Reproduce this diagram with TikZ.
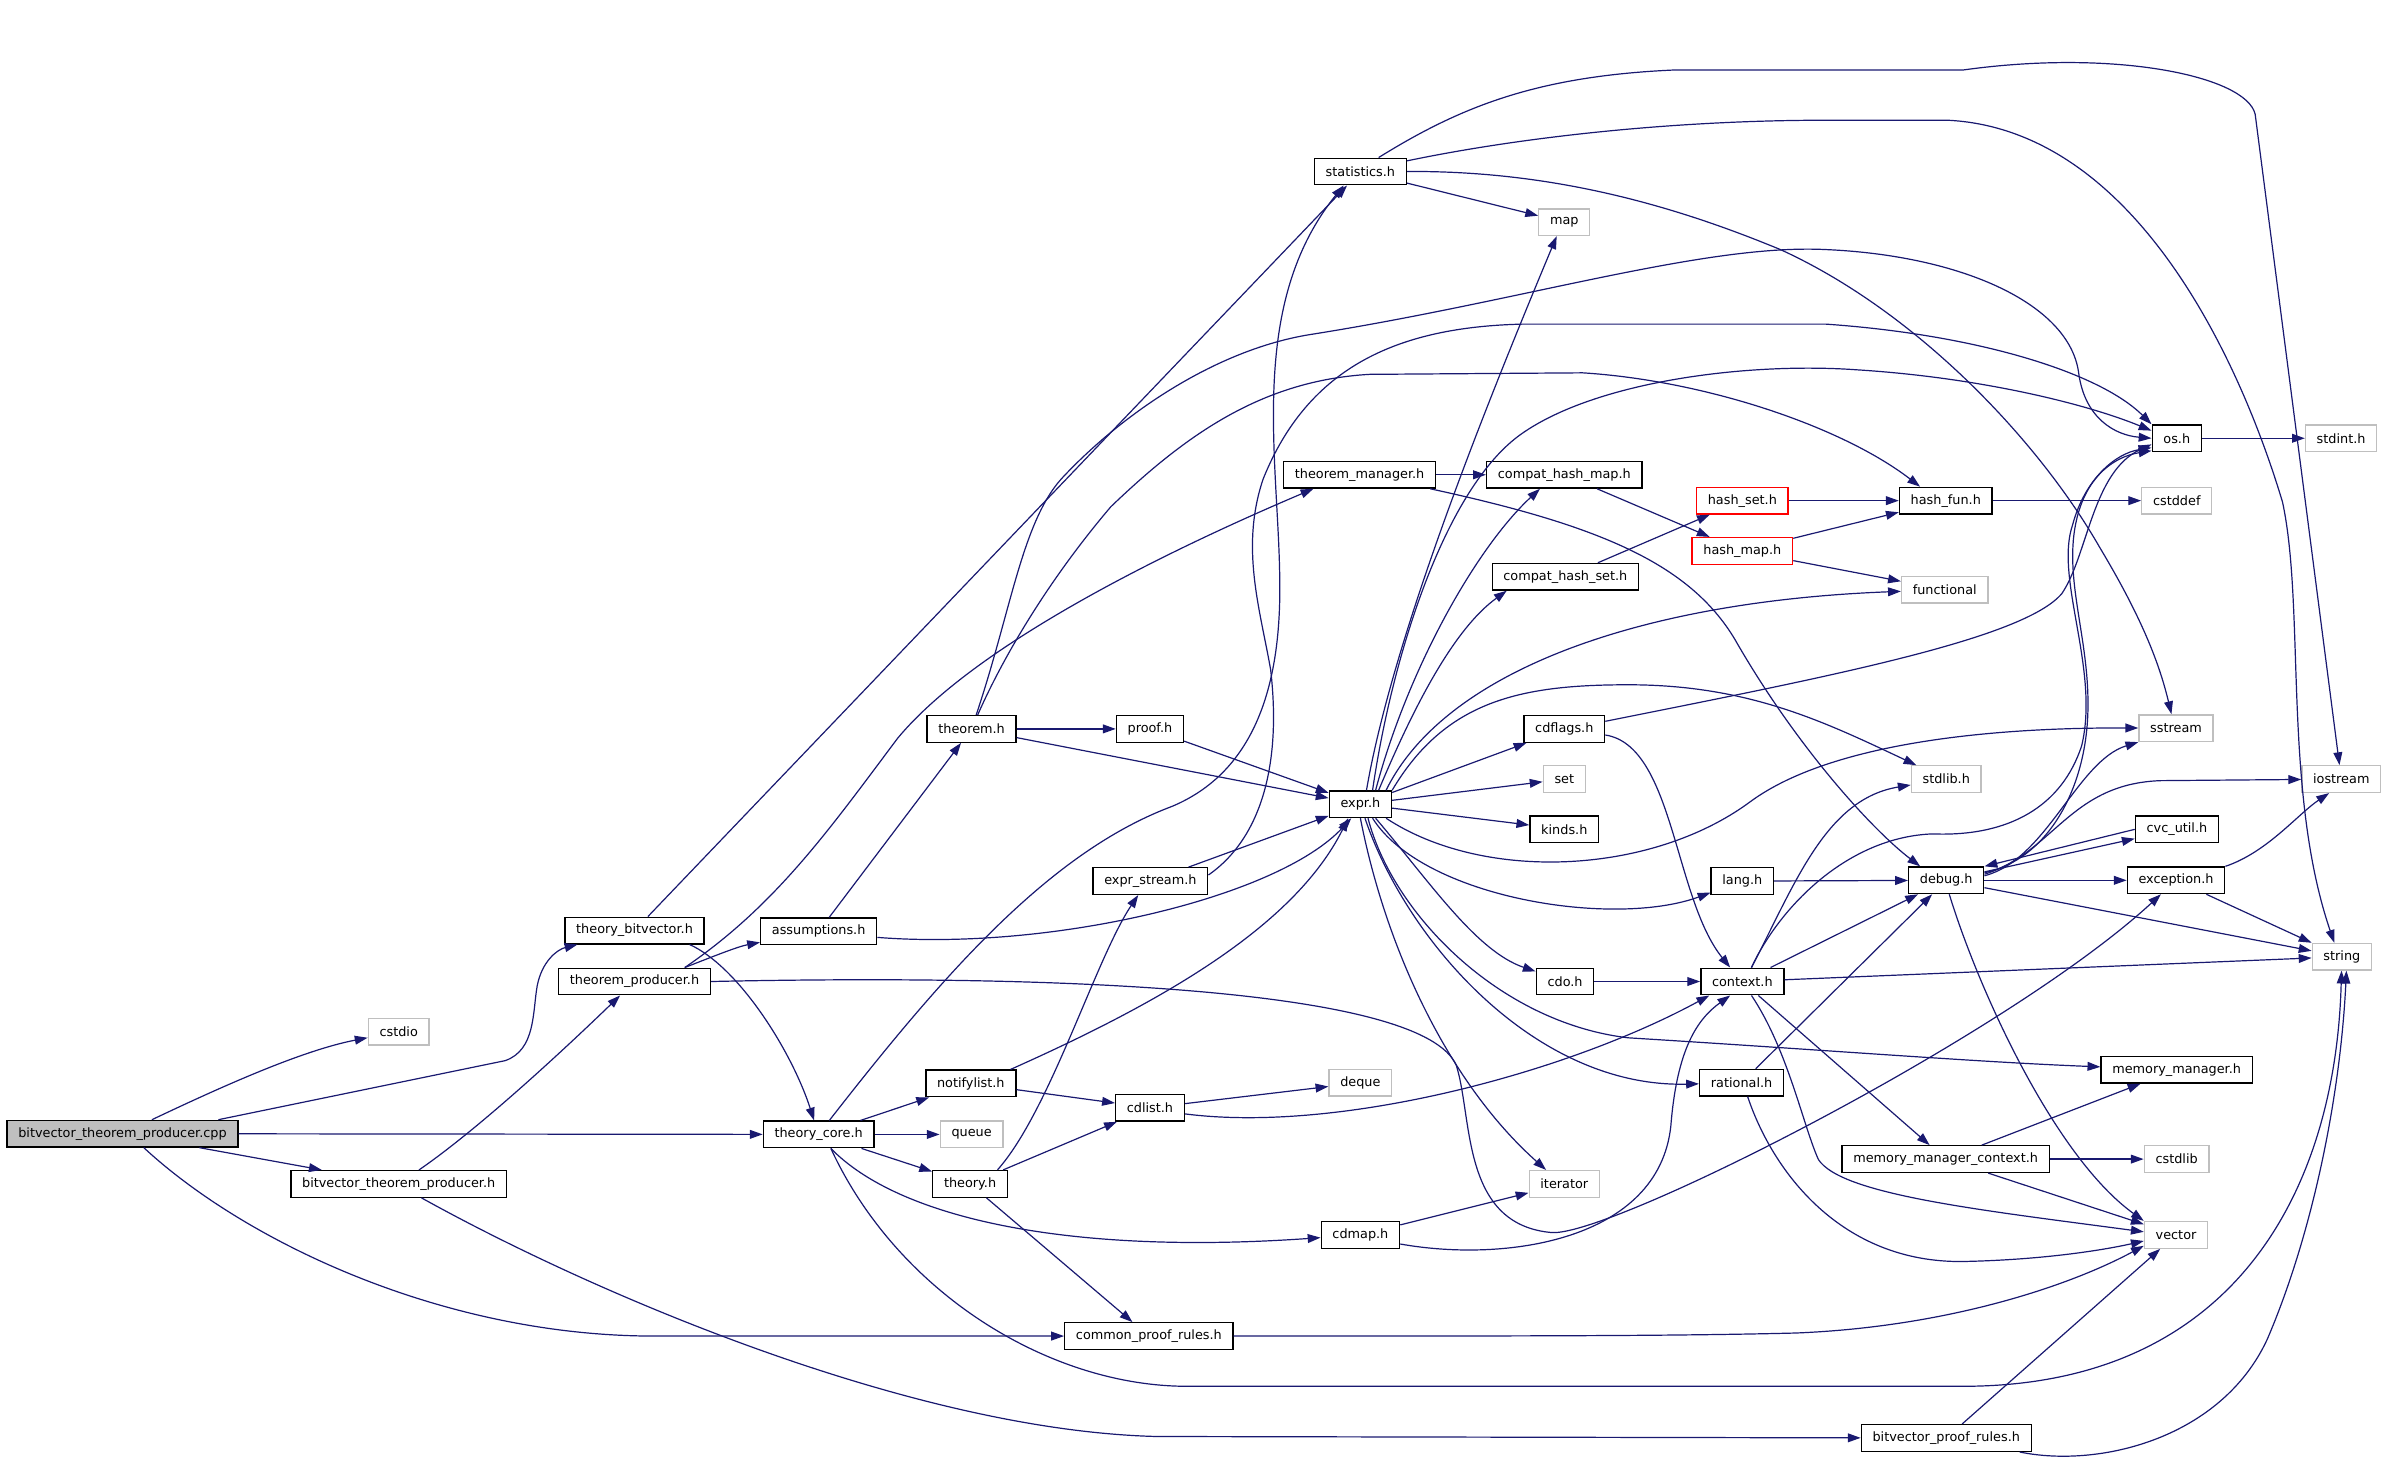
\documentclass[tikz,border=0pt]{standalone}
\usepackage{fontspec}
\setmainfont{DejaVu Sans}
\usetikzlibrary{arrows.meta,calc}
\definecolor{edgeblue}{HTML}{191970}
\definecolor{sysgray}{HTML}{BFBFBF}
\newcommand{\fnode}[4][hdr]{\node[#1] (#2) at (#3) {#4};}
\newcommand{\fedge}[2]{\draw[incl] (#1) -- (#2);}
\tikzset{
  hdr/.style={draw=black, line width=0.5pt, rectangle, inner xsep=4.2pt, inner ysep=0pt,
    minimum height=0.35cm, font=\fontsize{4.8}{5.5}\selectfont},
  sys/.style={hdr, draw=sysgray},
  redhdr/.style={hdr, draw=red},
  mainfile/.style={hdr, fill=sysgray},
  incl/.style={draw=edgeblue, line width=0.45pt, -{Triangle[length=4.8pt,width=3.3pt]}},
}

\begin{document}
\begin{tikzpicture}[x=0.02cm,y=-0.02cm]
  \useasboundingbox (0,0) rectangle (1568,965);

  \fnode[mainfile]{cpp}{80.5,745}{bitvector\_theorem\_producer.cpp}
  \fnode[sys]{cstdio}{262,678}{cstdio}
  \fnode{tbv}{417,611.5}{theory\_bitvector.h}
  \fnode{tprod}{417,645}{theorem\_producer.h}
  \fnode{btph}{262,778}{bitvector\_theorem\_producer.h}
  \fnode{assum}{538,612}{assumptions.h}
  \fnode{tcore}{538,745.5}{theory\_core.h}
  \fnode{thm}{638.5,479}{theorem.h}
  \fnode{notify}{638,712}{notifylist.h}
  \fnode[sys]{queue}{638.5,745.5}{queue}
  \fnode{theory}{637.5,778}{theory.h}
  \fnode{proof}{755.7,479}{proof.h}
  \fnode{stats}{894,112.7}{statistics.h}
  \fnode[sys]{map}{1028,146}{map}
  \fnode{tmgr}{893.5,312}{theorem\_manager.h}
  \fnode{chm}{1028,312}{compat\_hash\_map.h}
  \fnode{chs}{1028.7,379}{compat\_hash\_set.h}
  \fnode[redhdr]{hset}{1145,329}{hash\_set.h}
  \fnode[redhdr]{hmap}{1145,362}{hash\_map.h}
  \fnode{hfun}{1278.7,329}{hash\_fun.h}
  \fnode[sys]{functional}{1278,387.5}{functional}
  \fnode{os}{1430.5,288}{os.h}
  \fnode[sys]{stdint}{1538.5,288}{stdint.h}
  \fnode[sys]{cstddef}{1430.5,329}{cstddef}
  \fnode{expr}{894,528.5}{expr.h}
  \fnode{cdflags}{1028,479}{cdflags.h}
  \fnode[sys]{set}{1028,512}{set}
  \fnode{kinds}{1028,545}{kinds.h}
  \fnode{estream}{756,579}{expr\_stream.h}
  \fnode{lang}{1145,579}{lang.h}
  \fnode{cdo}{1028.5,645}{cdo.h}
  \fnode{context}{1145,645}{context.h}
  \fnode{rational}{1144.5,711.5}{rational.h}
  \fnode[sys]{deque}{894,711.5}{deque}
  \fnode{cdlist}{755.7,728}{cdlist.h}
  \fnode[sys]{iterator}{1028,778}{iterator}
  \fnode[sys]{stdlib}{1279,512}{stdlib.h}
  \fnode[sys]{sstream}{1430,478.5}{sstream}
  \fnode[sys]{iostream}{1538.6,512}{iostream}
  \fnode{cvcutil}{1430.6,545}{cvc\_util.h}
  \fnode{debug}{1279,578.5}{debug.h}
  \fnode{exception}{1430,578.5}{exception.h}
  \fnode[sys]{string}{1539,628.7}{string}
  \fnode{mm}{1430.4,703}{memory\_manager.h}
  \fnode{mmc}{1278.6,761.7}{memory\_manager\_context.h}
  \fnode[sys]{cstdlib}{1430.4,761.7}{cstdlib}
  \fnode{cdmap}{894,811.5}{cdmap.h}
  \fnode{cpr}{755,878}{common\_proof\_rules.h}
  \fnode[sys]{vector}{1430,811.5}{vector}
  \fnode{bpr}{1279,945}{bitvector\_proof\_rules.h}

  % the .cpp file
  \draw[incl] (cpp) .. controls (150,712) and (200,690) .. (cstdio);
  \draw[incl] (cpp.north) ++(63,0) -- (332,697) .. controls (352,690) and (350,665) .. (353,648) .. controls (356,632) and (366,624) .. (tbv);
  \fedge{cpp}{tcore}
  \fedge{cpp}{btph}
  \draw[incl] (cpp.south) ++(14,0) .. controls (160,815) and (290,878) .. (430,878) -- (cpr);

  \draw[incl] (btph) .. controls (310,745) and (360,700) .. (tprod);
  \draw[incl] (btph.south) ++(15,0) .. controls (390,850) and (600,940) .. (760,944) -- (bpr);
  \fedge{tbv}{stats}
  \draw[incl] (tbv.south east) ++(-10,0) .. controls (485,635) and (520,690) .. (tcore);
  \draw[incl] (tprod.north) ++(33,0) .. controls (470,628) and (485,622) .. (assum);
  \draw[incl] (tprod.north) ++(33,0) .. controls (510,595) and (545,545) .. (590,485) .. controls (640,425) and (760,365) .. ($(tmgr.south west)+(20,0)$);
  \draw[incl] (tprod.east) .. controls (700,640) and (935,650) .. (957,700) .. controls (968,735) and (960,805) .. (1020,810) .. controls (1060,812) and (1320,680) .. (exception);

  % theory_core.h
  \fedge{tcore}{notify}
  \fedge{tcore}{queue}
  \fedge{tcore}{theory}
  \draw[incl] (tcore.south) ++(8,0) .. controls (590,800) and (700,825) .. (cdmap);
  \draw[incl] (tcore.south) ++(8,0) .. controls (590,850) and (690,911) .. (780,911) -- (1290,911) .. controls (1470,911) and (1535,780) .. (string);
  \draw[incl] (tcore.north) ++(7,0) .. controls (620,640) and (690,560) .. (770,530) .. controls (830,505) and (842,440) .. (841,380) .. controls (840,300) and (820,200) .. ($(stats.south)+(-11,0)$);

  % theorem.h and friends
  \fedge{assum}{thm}
  \draw[incl] (assum.east) ++(0,4) .. controls (690,625) and (840,590) .. ($(expr.south)+(-6,0)$);
  \fedge{thm}{proof}
  \fedge{thm}{expr}
  \fedge{proof}{expr}
  \draw[incl] (thm.north) ++(3,0) .. controls (665,400) and (672,340) .. (700,312) .. controls (740,270) and (800,230) .. (860,220) .. controls (1000,198) and (1120,160) .. (1200,164) .. controls (1290,168) and (1360,200) .. (1366,245) .. controls (1370,275) and (1390,286) .. (os.west);
  \draw[incl] (thm.north) ++(4,0) .. controls (660,430) and (690,380) .. (730,333) .. controls (780,285) and (830,250) .. (900,246) -- (1040,245) .. controls (1120,250) and (1210,280) .. ($(hfun.north west)+(14,0)$);

  \fedge{estream}{expr}
  \draw[incl] (estream.east) ++(0,-4) .. controls (830,550) and (842,500) .. (835,440) .. controls (828,400) and (815,360) .. (830,315) .. controls (860,240) and (920,215) .. (1000,213) -- (1200,213) .. controls (1300,220) and (1380,245) .. (os.north west);
  \draw[incl] (notify.north) ++(26,0) .. controls (760,660) and (850,610) .. ($(expr.south)+(-8,0)$);
  \fedge{notify}{cdlist}
  \fedge{theory}{cdlist}
  \draw[incl] (theory.north) ++(18,0) .. controls (690,730) and (720,630) .. ($(estream.south)+(-8,0)$);
  \fedge{theory}{cpr}
  \fedge{cdlist}{deque}
  \draw[incl] (cdlist.east) ++(0,4) .. controls (880,745) and (1030,705) .. ($(context.south west)+(6,0)$);
  \fedge{cdmap}{iterator}
  \draw[incl] (cdmap.east) ++(0,6) .. controls (990,830) and (1090,815) .. (1098,740) .. controls (1102,690) and (1115,670) .. ($(context.south)+(-8,0)$);

  % expr.h
  \draw[incl] (expr.north) ++(4,0) .. controls (915,420) and (975,270) .. ($(map.south)+(-5,0)$);
  \draw[incl] (expr.north) ++(8,0) .. controls (915,430) and (950,320) .. (1000,285) .. controls (1050,250) and (1150,238) .. (1220,243) .. controls (1300,248) and (1370,265) .. ($(os.west)+(0,-5)$);
  \draw[incl] (expr.north) ++(10,0) .. controls (925,440) and (970,360) .. ($(chm.south)+(-16,0)$);
  \draw[incl] (expr.north) ++(12,0) .. controls (935,450) and (960,410) .. ($(chs.south west)+(10,0)$);
  \draw[incl] (expr.north east) ++(-4,0) .. controls (950,440) and (1080,395) .. (functional);
  \draw[incl] (expr.north east) .. controls (950,460) and (1000,450) .. (1070,450) .. controls (1150,450) and (1200,475) .. (stdlib);
  \fedge{expr}{cdflags}
  \fedge{expr}{set}
  \fedge{expr}{kinds}
  \draw[incl] (expr.south east) ++(-4,0) .. controls (975,580) and (1085,575) .. (1150,527) .. controls (1200,490) and (1300,478) .. (sstream);
  \draw[incl] (expr.south) ++(8,0) .. controls (935,590) and (1060,610) .. (lang);
  \draw[incl] (expr.south) ++(10,0) .. controls (940,580) and (970,625) .. (cdo);
  \draw[incl] (expr.south) ++(5,0) .. controls (915,600) and (985,672) .. (1070,682) .. controls (1200,690) and (1300,698) .. (mm);
  \draw[incl] (expr.south) ++(3,0) .. controls (925,620) and (1010,715) .. (rational);
  \draw[incl] (expr.south) .. controls (910,620) and (950,710) .. ($(iterator.north)+(-12,0)$);

  \fedge{tmgr}{chm}
  \draw[incl] (tmgr.south east) ++(-4,0) .. controls (1050,345) and (1110,370) .. (1140,420) .. controls (1180,490) and (1230,545) .. ($(debug.north west)+(8,0)$);
  \fedge{chm}{hmap}
  \fedge{chs}{hset}
  \fedge{hset}{hfun}
  \fedge{hmap}{hfun}
  \fedge{hmap}{functional}
  \fedge{hfun}{cstddef}
  \fedge{os}{stdint}

  \draw[incl] (cdflags.east) ++(0,-5) .. controls (1200,445) and (1330,420) .. (1355,390) .. controls (1372,365) and (1375,310) .. ($(os.west)+(0,4)$);
  \draw[incl] (cdflags.east) ++(0,4) .. controls (1100,490) and (1100,590) .. ($(context.north)+(-8,0)$);
  \fedge{lang}{debug}
  \fedge{cdo}{context}

  % context.h
  \draw[incl] (context.north) ++(6,0) .. controls (1180,580) and (1200,525) .. (stdlib);
  \draw[incl] (context.north) ++(6,0) .. controls (1170,595) and (1215,550) .. (1270,548) .. controls (1320,550) and (1355,530) .. (1368,490) .. controls (1380,440) and (1350,380) .. (1362,345) .. controls (1370,315) and (1390,298) .. ($(os.south west)+(0,-3)$);
  \fedge{context}{debug}
  \fedge{context}{string}
  \fedge{context}{mmc}
  \draw[incl] (context.south) ++(6,0) .. controls (1175,690) and (1185,740) .. (1195,762) .. controls (1210,785) and (1300,795) .. ($(vector.west)+(0,-2)$);
  \fedge{rational}{debug}
  \draw[incl] (rational.south) ++(4,0) .. controls (1165,770) and (1210,830) .. (1290,829) .. controls (1340,828) and (1380,822) .. ($(vector.west)+(0,4)$);

  % debug.h
  \fedge{debug}{exception}
  \fedge{debug}{string}
  \draw[incl] (debug.south) ++(2,0) .. controls (1300,650) and (1350,760) .. (vector.north west);
  \fedge{debug}{cvcutil}
  \draw[incl] (cvcutil.west) -- (debug.north east);
  \draw[incl] (debug.east) ++(0,-3) .. controls (1345,565) and (1365,500) .. (sstream.south west);
  \draw[incl] (debug.east) ++(0,-4) .. controls (1350,560) and (1360,515) .. (1420,513) -- (iostream);
  \draw[incl] (debug.east) ++(0,-5) .. controls (1345,565) and (1370,520) .. (1372,470) .. controls (1374,420) and (1355,380) .. (1365,340) .. controls (1372,312) and (1390,300) .. ($(os.south west)+(0,-1)$);
  \draw[incl] (exception.north east) .. controls (1490,560) and (1510,535) .. ($(iostream.south)+(-8,0)$);
  \fedge{exception}{string}

  \fedge{mmc}{mm}
  \fedge{mmc}{cstdlib}
  \fedge{mmc}{vector}
  \draw[incl] (cpr.east) .. controls (1000,878) and (1100,878) .. (1180,876) .. controls (1280,872) and (1360,845) .. ($(vector.south west)+(0,-2)$);
  \fedge{bpr}{vector}
  \draw[incl] (bpr.south east) ++(-8,0) .. controls (1380,965) and (1460,945) .. (1490,880) .. controls (1520,810) and (1538,720) .. ($(string.south)+(3,0)$);

  % statistics.h
  \fedge{stats}{map}
  \draw[incl] (stats.north) ++(12,0) .. controls (960,70) and (1010,50) .. (1100,46) -- (1290,46) .. controls (1390,32) and (1476,50) .. (1482,75) -- (iostream);
  \draw[incl] (stats.east) ++(0,-7) .. controls (1000,90) and (1100,79) .. (1200,79) -- (1280,79) .. controls (1400,85) and (1470,230) .. (1500,330) .. controls (1515,400) and (1500,520) .. ($(string.north)+(-5,0)$);
  \draw[incl] (stats.east) .. controls (1020,112) and (1100,135) .. (1170,164) .. controls (1260,205) and (1340,290) .. (1380,360) .. controls (1410,410) and (1420,440) .. ($(sstream.north)+(-3,0)$);
\end{tikzpicture}
\end{document}
